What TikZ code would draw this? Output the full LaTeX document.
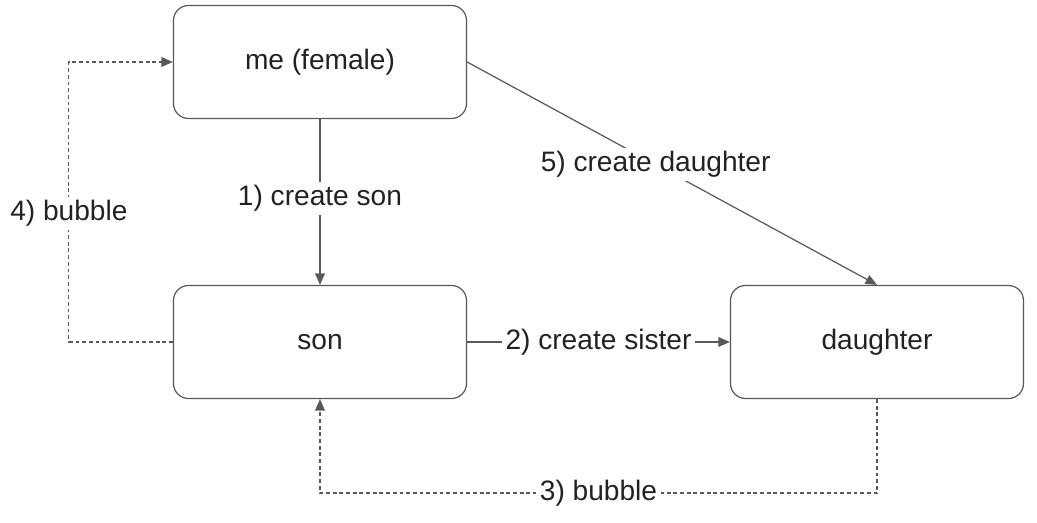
\documentclass[tikz,border=0pt]{standalone}
\usepackage{fontspec}
\setmainfont{Liberation Sans}
\usepackage{xcolor}
\usetikzlibrary{arrows.meta}
\definecolor{edgegray}{HTML}{595959}
\definecolor{textgray}{HTML}{222222}

\begin{document}
\begin{tikzpicture}[
  font=\fontsize{16}{19}\selectfont,
  box/.style={rectangle, rounded corners=0.3cm, draw=edgegray, line width=0.7pt, minimum width=5.86cm, minimum height=2.26cm, text=textgray},
  link/.style={draw=edgegray, line width=0.7pt, -{Triangle[length=6.5pt,width=5.5pt]}},
  bubble/.style={link, dash pattern=on 2.2pt off 1.6pt},
  lbl/.style={fill=white, text=textgray, inner sep=2pt}
]
\useasboundingbox (0,0) rectangle (20.74,-10.46);
\node[box] (me) at (6.40,-1.24) {me (female)};
\node[box] (son) at (6.40,-6.84) {son};
\node[box] (daughter) at (17.54,-6.84) {daughter};

\draw[link] (me) -- node[lbl, pos=0.48] {1) create son} (son);
\draw[link] (son) -- node[lbl] {2) create sister} (daughter);
\draw[bubble] (daughter.south) -- ++(0,-1.88) -| node[lbl, pos=0.25] {3) bubble} (son.south);
\draw[bubble] (son.west) -- ++(-2.08,0) |- node[lbl, pos=0.23] {4) bubble} (me.west);
\draw[link] (me.east) -- node[lbl, pos=0.46] {5) create daughter} (daughter.north);
\end{tikzpicture}
\end{document}
